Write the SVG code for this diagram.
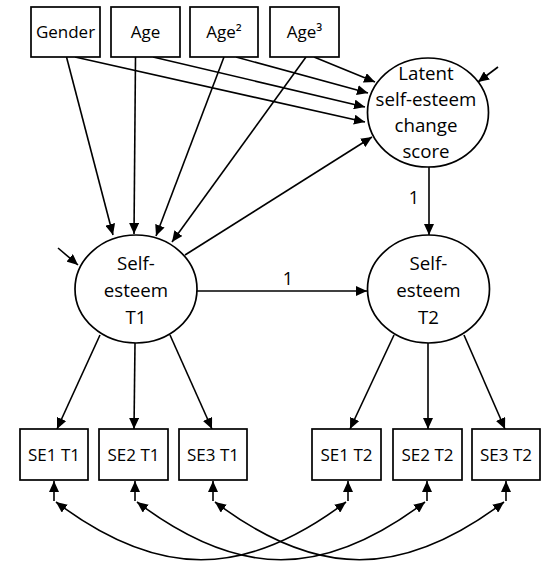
<svg xmlns="http://www.w3.org/2000/svg" width="542" height="564" viewBox="0 0 542 564">
<defs>
<marker id="ah" markerUnits="userSpaceOnUse" markerWidth="11" markerHeight="10" viewBox="0 0 11 10" refX="11" refY="5" orient="auto-start-reverse">
<path d="M0,0 L11,5 L0,10 z" fill="#000"/>
</marker>
<style>
.box{fill:#fff;stroke:#000;stroke-width:1.7}
.ell{fill:#fff;stroke:#000;stroke-width:1.7}
.c{fill:none;stroke:#000;stroke-width:1.6}
.a{marker-end:url(#ah)}
.d{marker-start:url(#ah);marker-end:url(#ah)}
text{font-family:"Open Sans","Noto Sans",sans-serif;fill:#000;text-anchor:middle}
.bt{font-size:17px}
.lb{font-size:18px}
.et{font-size:18.7px}
</style>
</defs>
<rect width="542" height="564" fill="#fff"/>
<g id="connectors">
<line class="c a" x1="66.5" y1="57" x2="113" y2="235"/>
<line class="c a" x1="135.5" y1="57" x2="134" y2="234"/>
<line class="c a" x1="224" y1="57" x2="156" y2="236"/>
<line class="c a" x1="306" y1="57" x2="172" y2="242"/>
<line class="c a" x1="75" y1="57" x2="365" y2="122"/>
<line class="c a" x1="153" y1="57" x2="365" y2="107"/>
<line class="c a" x1="236" y1="57" x2="368" y2="93"/>
<line class="c a" x1="314" y1="57" x2="375" y2="82"/>
<line class="c a" x1="185" y1="255" x2="372" y2="137"/>
<line class="c a" x1="498" y1="67" x2="478" y2="82"/>
<line class="c a" x1="58" y1="248" x2="78" y2="265"/>
<line class="c a" x1="197" y1="291" x2="367" y2="291"/>
<line class="c a" x1="429" y1="167" x2="429" y2="235"/>
<line class="c a" x1="100" y1="335" x2="57" y2="429"/>
<line class="c a" x1="135" y1="343" x2="134" y2="429"/>
<line class="c a" x1="170" y1="335" x2="212" y2="429"/>
<line class="c a" x1="394" y1="335" x2="350" y2="429"/>
<line class="c a" x1="428" y1="343" x2="428" y2="429"/>
<line class="c a" x1="464" y1="335" x2="505" y2="429"/>
<line class="c a" x1="54" y1="501" x2="54" y2="481"/>
<line class="c a" x1="135" y1="501" x2="135" y2="481"/>
<line class="c a" x1="213" y1="501" x2="213" y2="481"/>
<line class="c a" x1="348" y1="501" x2="348" y2="481"/>
<line class="c a" x1="427" y1="501" x2="427" y2="481"/>
<line class="c a" x1="506" y1="501" x2="506" y2="481"/>
<path class="c d" d="M56,502 C158,579 244,579 346,502"/>
<path class="c d" d="M137,502 C239,579 323,579 425,502"/>
<path class="c d" d="M215,502 C317,579 402,579 504,502"/>
<text class="lb" x="288" y="284.5">1</text>
<text class="lb" x="414" y="203.5">1</text>
</g>
<g id="gender"><rect class="box" x="31" y="7" width="69" height="50"/><text class="bt" x="65.5" y="38">Gender</text></g>
<g id="age"><rect class="box" x="111" y="7" width="69" height="50"/><text class="bt" x="145.5" y="38">Age</text></g>
<g id="age2"><rect class="box" x="190" y="7" width="68" height="50"/><text class="bt" x="224" y="38">Age²</text></g>
<g id="age3"><rect class="box" x="270" y="7" width="69" height="50"/><text class="bt" x="304.5" y="38">Age³</text></g>
<g id="latent"><ellipse class="ell" cx="428" cy="112.5" rx="60.5" ry="54.5"/>
<text class="et" x="426" y="80">Latent</text>
<text class="et" x="426" y="106">self-esteem</text>
<text class="et" x="426" y="132">change</text>
<text class="et" x="426" y="158">score</text></g>
<g id="se_t1"><ellipse class="ell" cx="136" cy="289" rx="61" ry="54"/>
<text class="et" x="136" y="270">Self-</text>
<text class="et" x="136" y="297">esteem</text>
<text class="et" x="136" y="324">T1</text></g>
<g id="se_t2"><ellipse class="ell" cx="428.5" cy="289" rx="61" ry="54"/>
<text class="et" x="428.5" y="270">Self-</text>
<text class="et" x="428.5" y="297">esteem</text>
<text class="et" x="428.5" y="324">T2</text></g>
<g id="se1t1"><rect class="box" x="20" y="429" width="68" height="51"/><text class="bt" x="54" y="460.5">SE1 T1</text></g>
<g id="se2t1"><rect class="box" x="99" y="429" width="69" height="51"/><text class="bt" x="133.5" y="460.5">SE2 T1</text></g>
<g id="se3t1"><rect class="box" x="179" y="429" width="68" height="51"/><text class="bt" x="213" y="460.5">SE3 T1</text></g>
<g id="se1t2"><rect class="box" x="312" y="429" width="69" height="51"/><text class="bt" x="346.5" y="460.5">SE1 T2</text></g>
<g id="se2t2"><rect class="box" x="393" y="429" width="69" height="51"/><text class="bt" x="427.5" y="460.5">SE2 T2</text></g>
<g id="se3t2"><rect class="box" x="472" y="429" width="68" height="51"/><text class="bt" x="506" y="460.5">SE3 T2</text></g>
</svg>
